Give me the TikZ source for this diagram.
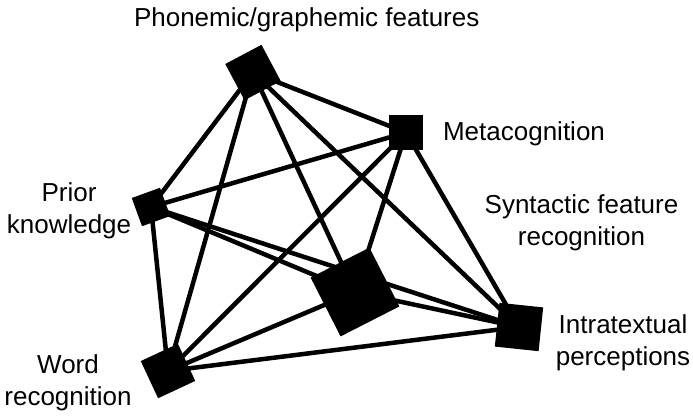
\documentclass[tikz,border=0pt]{standalone}
\usepackage{fontspec}
\setmainfont{Liberation Sans}
\usetikzlibrary{backgrounds}
\tikzset{
  concept/.style={fill=black, inner sep=0pt, minimum size=#1},
  link/.style={line width=4.5pt, black},
  lbl/.style={font=\fontsize{26}{32}\selectfont, align=center, anchor=base, inner sep=0pt}
}
\begin{document}
\begin{tikzpicture}[x=1pt,y=-1pt]
\useasboundingbox (0,0) rectangle (693,417);
%---------------------------------------------------
\node[concept=41, rotate=28] (phon)  at (253,72.5) {};
\node[concept=34]            (meta)  at (406,132.5) {};
\node[concept=30, rotate=20] (prior) at (151,207) {};
\node[concept=66, rotate=27] (synt)  at (355,292) {};
\node[concept=44, rotate=-6] (intra) at (519,327) {};
\node[concept=41, rotate=25] (word)  at (168,371) {};
%---------------------------------------------------
\begin{scope}[on background layer]
\draw[link] (phon.center) -- (meta.center);
\draw[link] (phon.center) -- (prior.center);
\draw[link] (phon.center) -- (word.center);
\draw[link] (phon.center) -- (synt.center);
\draw[link] (phon.center) -- (intra.center);
\draw[link] (meta.center) -- (prior.center);
\draw[link] (meta.center) -- (word.center);
\draw[link] (meta.center) -- (synt.center);
\draw[link] (meta.center) -- (intra.center);
\draw[link] (prior.center) -- (synt.center);
\draw[link] (prior.center) -- (intra.center);
\draw[link] (prior.center) -- (word.center);
\draw[link] (word.center) -- (synt.center);
\draw[link] (word.center) -- (intra.center);
\draw[link] (synt.center) -- (intra.center);
\end{scope}
%---------------------------------------------------
% multi-line labels: base = baseline of the last line
\node[lbl] (phonlbl)  at (306.7,26.7) {Phonemic/graphemic features};
\node[lbl] (metalbl)  at (524,140)    {Metacognition};
\node[lbl] (priorlbl) at (69,233)     {Prior\\knowledge};
\node[lbl] (syntlbl)  at (581.5,245)  {Syntactic feature\\recognition};
\node[lbl] (intralbl) at (623,365)    {Intratextual\\perceptions};
\node[lbl] (wordlbl)  at (68,405)     {Word\\recognition};
\end{tikzpicture}
\end{document}
